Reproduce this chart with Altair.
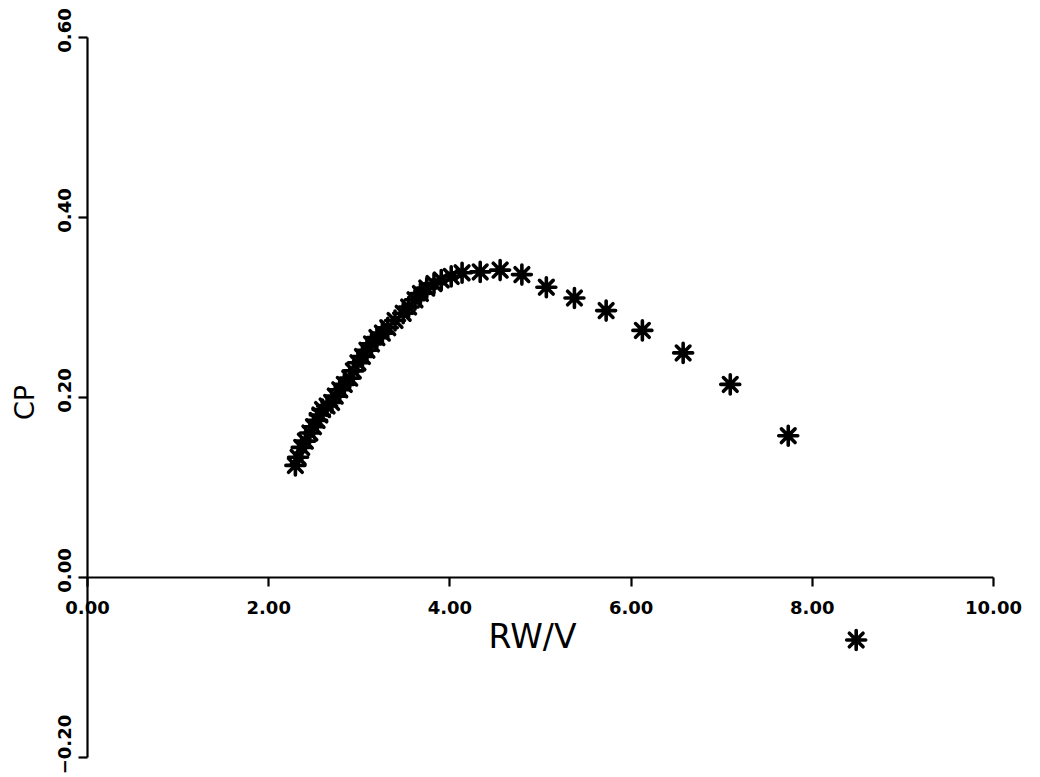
import altair as alt
import pandas as pd

# Values
rw_v = [2.30, 2.33, 2.37, 2.41, 2.46, 2.50, 2.54, 2.57, 2.60, 2.65, 2.70, 2.74,
        2.79, 2.84, 2.90, 2.94, 2.99, 3.04, 3.09, 3.14, 3.20, 3.26, 3.32, 3.40,
        3.49, 3.55, 3.62, 3.68, 3.75, 3.83, 3.91, 4.02, 4.14, 4.34, 4.56, 4.80,
        5.07, 5.38, 5.73, 6.13, 6.58, 7.10, 7.74, 8.49]
cp = [0.124, 0.133, 0.144, 0.151, 0.160, 0.167, 0.174, 0.180, 0.186, 0.190, 0.194, 0.201,
      0.208, 0.214, 0.221, 0.229, 0.238, 0.245, 0.252, 0.259, 0.266, 0.271, 0.277, 0.285,
      0.293, 0.300, 0.308, 0.315, 0.321, 0.326, 0.330, 0.334, 0.338, 0.339, 0.341, 0.336,
      0.322, 0.310, 0.296, 0.274, 0.249, 0.214, 0.157, -0.070]

x_ticks = [0, 2, 4, 6, 8, 10]
y_ticks = [-0.2, 0.0, 0.2, 0.4, 0.6]
x_domain = [0, 10]
y_domain = [-0.2, 0.6]

df = pd.DataFrame({"rw": rw_v, "cp": cp})

W, H = 906, 720
# place the x axis line at CP = 0
x_axis_offset = -H * (0 - y_domain[0]) / (y_domain[1] - y_domain[0])

star = "M0,-1L0,1M-1,0L1,0M-0.72,-0.72L0.72,0.72M-0.72,0.72L0.72,-0.72"

chart = alt.Chart(df).mark_point(
    shape=star, filled=False, stroke="black", strokeWidth=3.6, size=360, opacity=1,
    strokeCap="round"
).encode(
    x=alt.X("rw:Q",
            scale=alt.Scale(domain=x_domain, nice=False, zero=False),
            axis=alt.Axis(values=x_ticks, format=".2f", title="RW/V",
                          offset=x_axis_offset, labelPadding=13,
                          labelAlign="center", labelBaseline="top",
                          titleX=445, titleY=70, titleAlign="center",
                          titleBaseline="alphabetic", titleFontSize=33)),
    y=alt.Y("cp:Q",
            scale=alt.Scale(domain=y_domain, nice=False, zero=False),
            axis=alt.Axis(values=y_ticks, format=".2f", title="CP",
                          labelAngle=270, labelAlign="center",
                          labelBaseline="alphabetic", labelPadding=8,
                          labelOffset={"condition": {"test": "datum.value < -0.1", "value": -13},
                                       "value": -7},
                          titleX=-54, titleY=365, titleAngle=270,
                          titleAlign="center", titleBaseline="alphabetic",
                          titleFontSize=27)),
).properties(
    width=W, height=H, autosize="none",
    padding={"left": 87, "top": 37, "right": 47, "bottom": 20},
    background="white",
).configure_view(
    stroke=None
).configure_axis(
    grid=False,
    domainColor="black", domainWidth=2.2,
    tickColor="black", tickWidth=2.2, tickSize=9,
    labelFont="DejaVu Sans", labelFontWeight="bold", labelFontSize=18,
    labelColor="black", labelFlush=False, labelOverlap=False,
    titleFont="DejaVu Sans", titleFontWeight="normal", titleColor="black",
)

chart.save("out.html", embed_options={"renderer": "svg", "actions": False})
